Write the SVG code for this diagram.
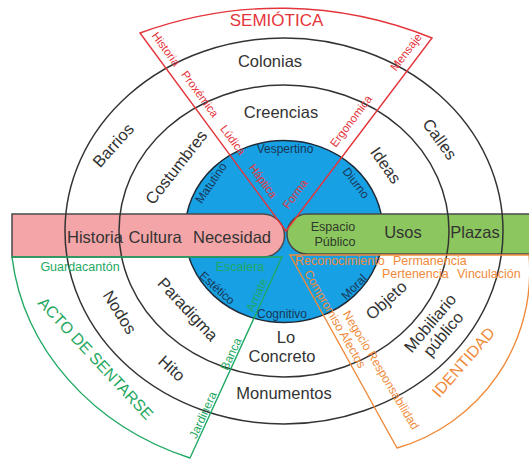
<svg xmlns="http://www.w3.org/2000/svg" width="529" height="460" viewBox="0 0 529 460">
<style>
text{font-family:"Liberation Sans",Arial,sans-serif}
.ring{stroke:#333;stroke-width:1.5;fill:none}
.lbl{font-size:16.5px;fill:#333;text-anchor:middle}
.inn{font-size:12px;fill:#1a3656;text-anchor:middle}
.red{font-size:11.5px;fill:#e4353b;text-anchor:middle}
.grn{font-size:12px;fill:#1fa862;text-anchor:middle}
.org{font-size:12.5px;fill:#f08a3a}
.bar{stroke:#4a4a4a;stroke-width:1.5}
</style>
<rect width="529" height="460" fill="#fff"/>
<g id="nucleo">
<ellipse cx="284" cy="231.5" rx="99" ry="91" fill="#17a1e4" stroke="#1e2a36" stroke-width="1.5"/>
</g>
<g id="barra-rosa">
<path class="bar" d="M12,214 H263 A21.5,21.5 0 0 1 263,257 H12 Z" fill="#f4a5a8"/>
</g>
<g id="barra-verde">
<path class="bar" d="M540,214 H307 A20,20 0 0 0 307,254 H540 Z" fill="#8cc65e"/>
</g>
<g id="anillos">
<ellipse class="ring" cx="284" cy="231" rx="165" ry="146"/>
<ellipse class="ring" cx="284" cy="231" rx="219" ry="193"/>
</g>
<g id="connectors">
<path id="semiotica-sector" d="M286,231 L140,33 A405,405 0 0 1 432,38 Z" fill="none" stroke="#e4353b" stroke-width="1.4"/>
<path id="acto-sector" d="M12,257 H282 L190,458 A274,242 0 0 1 12,257 Z" fill="none" stroke="#1fa862" stroke-width="1.4"/>
<path id="identidad-sector" d="M290,255 H529 A184,184 0 0 1 397,448 Z" fill="none" stroke="#f08a3a" stroke-width="1.4"/>
</g>
<g id="textos-anillo-exterior">
<text class="lbl" x="270" y="67">Colonias</text>
<text class="lbl" transform="translate(113,145) rotate(-48)" y="6">Barrios</text>
<text class="lbl" transform="translate(440,139) rotate(54)" y="6">Calles</text>
<text class="lbl" x="95" y="243">Historia</text>
<text class="lbl" x="475" y="238">Plazas</text>
<text class="lbl" transform="translate(120,312) rotate(58)" y="6">Nodos</text>
<text class="lbl" transform="translate(172,368) rotate(42)" y="6">Hito</text>
<text class="lbl" x="284" y="399">Monumentos</text>
<g transform="translate(436,328) rotate(-50)">
<text class="lbl" y="-2">Mobiliario</text>
<text class="lbl" y="15">público</text>
</g>
</g>
<g id="textos-anillo-medio">
<text class="lbl" x="281" y="118">Creencias</text>
<text class="lbl" transform="translate(176,167) rotate(-52)" y="6">Costumbres</text>
<text class="lbl" transform="translate(386,165) rotate(55)" y="6">Ideas</text>
<text class="lbl" x="155" y="243">Cultura</text>
<text class="lbl" x="403" y="238">Usos</text>
<text class="lbl" transform="translate(188,309) rotate(47)" y="6">Paradigma</text>
<text class="lbl" x="286" y="343">Lo</text>
<text class="lbl" x="282" y="362">Concreto</text>
<text class="lbl" transform="translate(386,300) rotate(-42)" y="6">Objeto</text>
</g>
<g id="textos-nucleo">
<text class="inn" x="285" y="153">Vespertino</text>
<text class="inn" transform="translate(211,183) rotate(-56)" y="4">Matutino</text>
<text class="inn" transform="translate(356,183) rotate(52)" y="4">Diurno</text>
<text class="lbl" x="232" y="243">Necesidad</text>
<text x="333" y="230.5" style="font-size:12.5px;fill:#2e3a2c;text-anchor:middle">Espacio</text>
<text x="335" y="246" style="font-size:12.5px;fill:#2e3a2c;text-anchor:middle">Público</text>
<text class="inn" transform="translate(217,288) rotate(42)" y="4">Estético</text>
<text class="inn" transform="translate(354,287) rotate(-45)" y="4">Moral</text>
<text class="inn" x="282" y="318">Cognitivo</text>
</g>
<g id="textos-semiotica">
<text x="276.5" y="26" style="font-size:17px;fill:#e4353b;text-anchor:middle">SEMIÓTICA</text>
<text class="red" transform="translate(166,49) rotate(53.6)" y="4">Historia</text>
<text class="red" transform="translate(200,94) rotate(53.6)" y="4">Proxémica</text>
<text class="red" transform="translate(233,140) rotate(53.6)" y="4">Lúdica</text>
<text class="red" transform="translate(263,181) rotate(53.6)" y="4">Háptica</text>
<text class="red" transform="translate(406,52) rotate(-52.9)" y="4">Mensaje</text>
<text class="red" transform="translate(351,121) rotate(-52.9)" y="4">Ergonomica</text>
<text class="red" transform="translate(295,194) rotate(-52.9)" y="4">Forma</text>
</g>
<g id="textos-acto">
<text class="grn" x="80" y="271" style="font-size:12.5px">Guardacantón</text>
<text class="grn" x="240" y="271" style="font-size:12.5px">Escalera</text>
<text class="grn" transform="translate(257,295) rotate(-65.6)" y="4">Arriate</text>
<text class="grn" transform="translate(231,354) rotate(-65.6)" y="4">Banca</text>
<text class="grn" transform="translate(203,415) rotate(-65.6)" y="4">Jardinera</text>
<text class="grn" transform="translate(96,358) rotate(47)" y="6" style="font-size:16px">ACTO DE SENTARSE</text>
</g>
<g id="textos-identidad">
<text class="org" x="295" y="265">Reconocimiento</text>
<text class="org" x="393" y="265">Permanencia</text>
<text class="org" x="382" y="278">Pertenencia</text>
<text class="org" x="457" y="278">Vinculación</text>
<text class="org" transform="translate(335,319) rotate(60)" y="4" style="font-size:12px;text-anchor:middle">Compromiso Afectos</text>
<text class="org" transform="translate(381,370) rotate(59)" y="4" style="font-size:12px;text-anchor:middle">Negocio Responsabilidad</text>
<text class="org" transform="translate(463,362) rotate(-49)" y="6" style="font-size:16px;text-anchor:middle">IDENTIDAD</text>
</g>
</svg>
